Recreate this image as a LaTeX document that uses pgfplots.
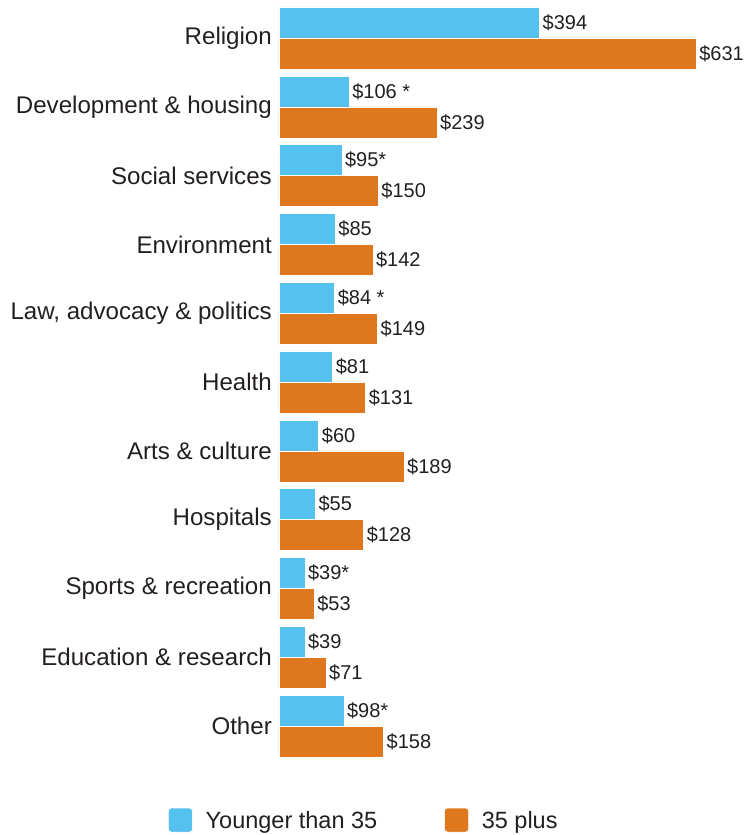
\documentclass[border=0pt]{standalone}
\usepackage{pgfplots}
\pgfplotsset{compat=1.18}
\usepackage{fontspec}
\setmainfont{Liberation Sans}
\definecolor{cblue}{HTML}{54C1EE}
\definecolor{corange}{HTML}{DE771E}
\definecolor{ctext}{HTML}{231F20}
\begin{document}
\begin{tikzpicture}
\begin{axis}[
  name=ax,
  xbar,
  scale only axis,
  width=467pt, height=756.8pt,
  xmin=0, xmax=706.5,
  ymin=-0.5, ymax=10.5,
  enlargelimits=false,
  axis line style={draw=none},
  major tick length=0pt,
  xtick=\empty,
  ytick={0,1,2,3,4,5,6,7,8,9,10},
  yticklabels={Other,Education \& research,Sports \& recreation,Hospitals,Arts \& culture,Health,{Law, advocacy \& politics},Environment,Social services,Development \& housing,Religion},
  yticklabel style={font=\fontsize{24.1}{28}\selectfont, text=ctext, inner sep=0pt, xshift=-7pt},
  bar width=31pt,
  point meta=explicit symbolic,
  nodes near coords,
  every node near coord/.append style={font=\fontsize{20}{23}\selectfont, text=ctext, anchor=west, inner sep=0pt, xshift=3pt},
  legend columns=2,
  legend style={at={(axis description cs:-0.2377,-0.0788)}, anchor=west, draw=none, inner sep=0pt,
    font=\fontsize{23.5}{28}\selectfont, text=ctext,
    /tikz/every even column/.append style={column sep=67pt},
    nodes={inner sep=0pt, text depth=0pt}},
  legend image code/.code={\fill[#1, rounded corners=3pt] (0pt,-12pt) rectangle (24pt,12pt);\path (24pt,0) -- (37pt,0);},
]
\addplot[fill=cblue, draw=white, line width=0.5pt, bar shift=15.5pt] coordinates {
 (98,0) [\$98*]
 (39,1) [\$39]
 (39,2) [\$39*]
 (55,3) [\$55]
 (60,4) [\$60]
 (81,5) [\$81]
 (84,6) [\$84 *]
 (85,7) [\$85]
 (95,8) [\$95*]
 (106,9) [\$106 *]
 (394,10) [\$394]
};
\addlegendentry{Younger than 35}
\addplot[fill=corange, draw=white, line width=0.5pt, bar shift=-15.5pt] coordinates {
 (158,0) [\$158]
 (71,1) [\$71]
 (53,2) [\$53]
 (128,3) [\$128]
 (189,4) [\$189]
 (131,5) [\$131]
 (149,6) [\$149]
 (142,7) [\$142]
 (150,8) [\$150]
 (239,9) [\$239]
 (631,10) [\$631]
};
\addlegendentry{35 plus}
\end{axis}
\pgfresetboundingbox
\path ([xshift=-279pt,yshift=-74.6pt]ax.south west) rectangle ([yshift=3.6pt]ax.north east);
\end{tikzpicture}
\end{document}
